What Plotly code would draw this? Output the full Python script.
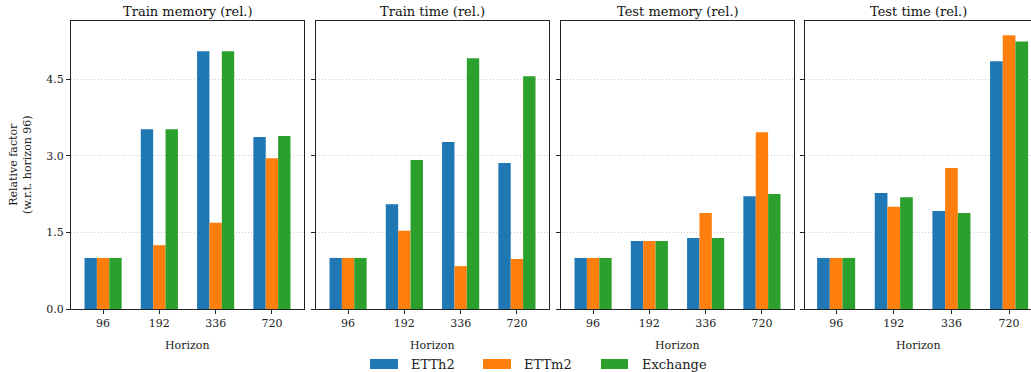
import plotly.graph_objects as go

horizons = ["96", "192", "336", "720"]
series_names = ["ETTh2", "ETTm2", "Exchange"]
colors = ["#1f77b4", "#ff7f0e", "#2ca02c"]
panel_titles = ["Train memory (rel.)", "Train time (rel.)", "Test memory (rel.)", "Test time (rel.)"]

train_memory = {
    "ETTh2": [1.0, 3.52, 5.05, 3.37],
    "ETTm2": [1.0, 1.25, 1.69, 2.95],
    "Exchange": [1.0, 3.52, 5.05, 3.39],
}
train_time = {
    "ETTh2": [1.0, 2.05, 3.27, 2.86],
    "ETTm2": [1.0, 1.53, 0.84, 0.98],
    "Exchange": [1.0, 2.92, 4.91, 4.56],
}
test_memory = {
    "ETTh2": [1.0, 1.33, 1.39, 2.21],
    "ETTm2": [1.0, 1.33, 1.88, 3.46],
    "Exchange": [1.0, 1.33, 1.39, 2.25],
}
test_time = {
    "ETTh2": [1.0, 2.27, 1.92, 4.85],
    "ETTm2": [1.0, 2.00, 2.76, 5.36],
    "Exchange": [1.0, 2.19, 1.88, 5.24],
}
panels = [train_memory, train_time, test_memory, test_time]
y_ticks = [0.0, 1.5, 3.0, 4.5]

W, H = 1031, 372
top_px, bot_px = 21, 309
plot_h = bot_px - top_px
FONT = "DejaVu Serif"
panel_px = [(71, 304), (316, 549), (561, 794), (805, 1031)]
x_ranges = [[-0.57, 3.57]] * 3 + [[-0.54, 3.38]]

fig = go.Figure()
bar_w = 0.22
offsets = [-bar_w, 0.0, bar_w]
for p, data in enumerate(panels):
    ax = "" if p == 0 else str(p + 1)
    for s, name in enumerate(series_names):
        fig.add_trace(go.Bar(
            x=list(range(len(horizons))), y=data[name], name=name,
            marker=dict(color=colors[s], line=dict(width=0)),
            width=bar_w, offset=offsets[s] - bar_w / 2,
            xaxis="x" + ax, yaxis="y" + ax, showlegend=False,
        ))

layout = dict(
    width=W, height=H, margin=dict(l=0, r=0, t=top_px, b=H - bot_px),
    plot_bgcolor="white", paper_bgcolor="white",
    font=dict(family=FONT, size=11, color="#222"),
    barmode="overlay",
)
annotations = []
shapes = []
for p in range(4):
    ax = "" if p == 0 else str(p + 1)
    x0, x1 = panel_px[p]
    layout["xaxis" + ax] = dict(
        domain=[x0 / W, x1 / W], anchor="y" + ax, range=x_ranges[p],
        tickmode="array", tickvals=list(range(len(horizons))), ticktext=horizons,
        showline=True, linecolor="#222", linewidth=1.2, mirror=True,
        ticks="outside", ticklen=4, tickcolor="#222", showgrid=False, zeroline=False,
        tickfont=dict(family=FONT, size=11, color="#222"),
    )
    layout["yaxis" + ax] = dict(
        domain=[0, 1], anchor="x" + ax, range=[0, 5.64],
        tickmode="array", tickvals=y_ticks, tickformat=".1f",
        showticklabels=(p == 0),
        showline=True, linecolor="#222", linewidth=1.2, mirror=(p < 3),
        ticks="outside", ticklen=4, tickcolor="#222",
        showgrid=True, gridcolor="#cccccc", griddash="1px,2px", gridwidth=0.8,
        zeroline=False,
        tickfont=dict(family=FONT, size=11, color="#222"),
    )
    cx = (x0 + x1) / 2 / W
    annotations.append(dict(text=panel_titles[p], x=cx, y=1, xref="paper", yref="paper",
                            xanchor="center", yanchor="bottom", yshift=0, showarrow=False,
                            font=dict(family=FONT, size=13, color="#111")))
    annotations.append(dict(text="Horizon", x=cx, y=0, xref="paper", yref="paper",
                            xanchor="center", yanchor="top", yshift=-28, showarrow=False,
                            font=dict(family=FONT, size=11, color="#222")))

annotations.append(dict(text="Relative factor<br>(w.r.t. horizon 96)", x=20 / W, y=(bot_px - 165) / plot_h,
                        xref="paper", yref="paper", xanchor="center", yanchor="middle",
                        textangle=-90, showarrow=False,
                        font=dict(family=FONT, size=11, color="#222")))

# legend (manual, matplotlib style)
leg_x = [(370, 398, 409), (483, 511, 522), (601, 628, 640)]
ly0, ly1 = 359, 369
for s, name in enumerate(series_names):
    sx0, sx1, tx = leg_x[s]
    shapes.append(dict(type="rect", xref="paper", yref="paper",
                       x0=sx0 / W, x1=sx1 / W, y0=(bot_px - ly1) / plot_h, y1=(bot_px - ly0) / plot_h,
                       fillcolor=colors[s], line=dict(width=0)))
    annotations.append(dict(text=name, x=tx / W, y=(bot_px - 364) / plot_h, xref="paper", yref="paper",
                            xanchor="left", yanchor="middle", showarrow=False,
                            font=dict(family=FONT, size=13, color="#222")))

layout["annotations"] = annotations
layout["shapes"] = shapes
fig.update_layout(**layout)
fig.write_html("out.html", config={"displayModeBar": False},
               post_script="document.body.style.margin='0';document.body.style.overflow='hidden';")
